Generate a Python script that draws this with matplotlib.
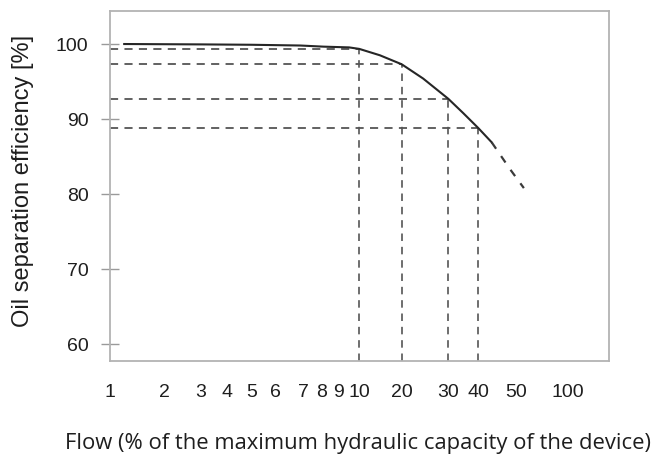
import numpy as np
import matplotlib
matplotlib.use("Agg")
import matplotlib.pyplot as plt

# efficiency curve
flow = [1.2, 3.0, 5.0, 6.9, 8.1, 9.5, 10.0, 14.0, 20.0, 24.1, 30.0, 34.6, 40.0, 43.3]
efficiency = [100.0, 99.95, 99.9, 99.8, 99.65, 99.55, 99.35, 98.5, 97.3, 95.4, 92.7, 90.8, 88.8, 86.9]

# dashed extrapolation past the measured range
flow_extra = [43.3, 48.3, 55.5]
efficiency_extra = [86.9, 83.3, 80.8]

# read-off guides
guide_flow = [10, 20, 30, 40]
guide_eff = [99.3, 97.3, 92.7, 88.8]

x_ticks = [1, 2, 3, 4, 5, 6, 7, 8, 9, 10, 20, 30, 40, 50, 100]
y_ticks = [60, 70, 80, 90, 100]

# the printed flow axis is a hand-drawn log axis, so use a warped scale
warp_vals = [0.1, 1, 2, 3, 4, 5, 6, 7, 8, 9, 10, 20, 30, 40, 50, 100, 172, 1000]
warp_pos = [-139, 110, 164, 201, 226.7, 251.7, 275, 303, 321.7, 338.3, 359.3,
            401.7, 448.3, 478.3, 516, 568.3, 609.3, 742]
lw_ = np.log10(warp_vals)


def fwd(x):
    x = np.clip(np.asarray(x, dtype=float), 1e-3, None)
    return np.interp(np.log10(x), lw_, warp_pos)


def inv(p):
    return 10 ** np.interp(np.asarray(p, dtype=float), warp_pos, lw_)


fig = plt.figure(figsize=(6.57, 4.54), dpi=100)
ax = fig.add_axes([110 / 657, 1 - 360.7 / 454, (609.3 - 110) / 657, (360.7 - 11) / 454])
ax.set_xscale("function", functions=(fwd, inv))
ax.set_xlim(1, 172)
ax.set_ylim(57.8, 104.4)

dash = (0, (4.5, 3.5))
for fx, ey in zip(guide_flow, guide_eff):
    ax.plot([1, fx], [ey, ey], color="#555555", lw=1.3, linestyle=dash)
    ax.plot([fx, fx], [57.8, ey], color="#555555", lw=1.2, linestyle=dash)

ax.plot(flow, efficiency, color="#262626", lw=1.5)
ax.plot(flow_extra, efficiency_extra, color="#3a3a3a", lw=1.6, linestyle=(0, (3.5, 4)))

ax.set_xticks(x_ticks)
ax.set_xticklabels([str(v) for v in x_ticks])
ax.xaxis.set_minor_locator(matplotlib.ticker.NullLocator())
ax.set_yticks(y_ticks)
ax.yaxis.set_minor_locator(matplotlib.ticker.NullLocator())

for sp in ax.spines.values():
    sp.set_color("#b3b3b3")
    sp.set_linewidth(1.3)

ax.tick_params(axis="x", length=0, pad=17, labelsize=14, labelcolor="#1e1e1e")
ax.tick_params(axis="y", direction="inout", length=13, width=1.0, color="#9a9a9a",
               pad=9, labelsize=14, labelcolor="#1e1e1e")
for lab in ax.get_xticklabels() + ax.get_yticklabels():
    lab.set_fontfamily("Liberation Sans")

fig.text(23 / 657, 1 - 180.5 / 454, "Oil separation efficiency [%]", rotation=90,
         ha="center", va="center", fontsize=17, family="Liberation Sans", color="#1e1e1e")
fig.text(358 / 657, 1 - 443 / 454, "Flow (% of the maximum hydraulic capacity of the device)",
         ha="center", va="center", fontsize=15.8, family="Open Sans", color="#1e1e1e")

fig.savefig("out.png", dpi=100)
